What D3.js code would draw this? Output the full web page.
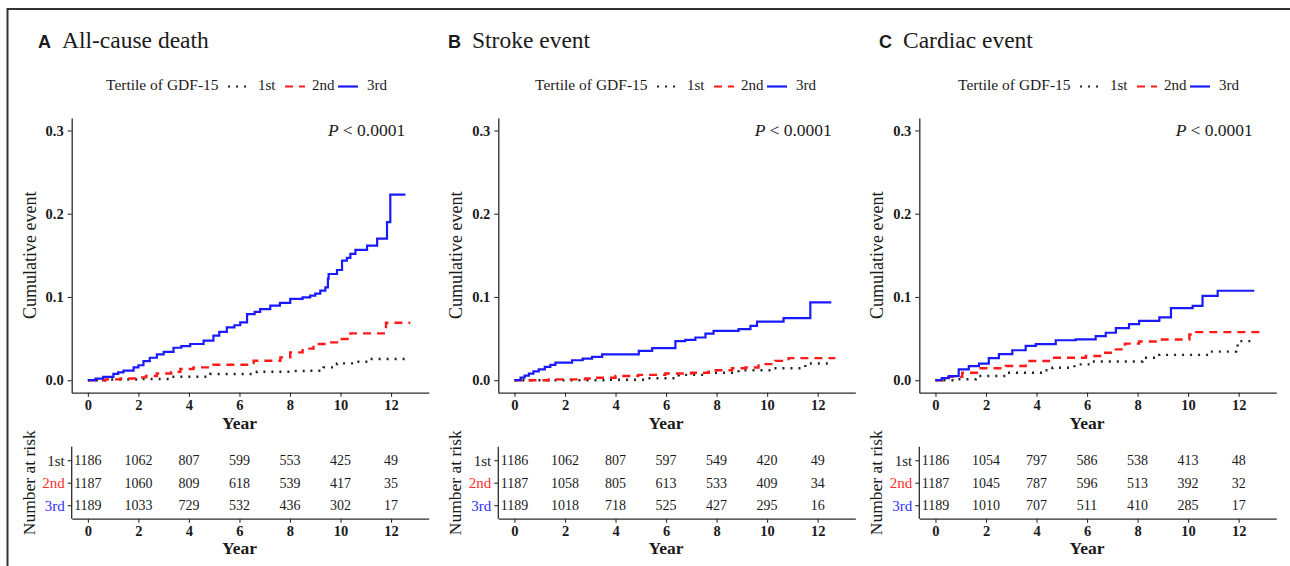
<!DOCTYPE html>
<html>
<head>
<meta charset="utf-8">
<script src="https://cdn.jsdelivr.net/npm/d3@7"></script>
<style>
  body { margin: 0; background: #fff; }
  svg text { font-family: "Liberation Serif", "Times New Roman", serif; }
</style>
</head>
<body>
<svg id="chart" width="1290" height="566"></svg>
<script>
/* -----------------    DATA     ------------------ */

const years = [0, 2, 4, 6, 8, 10, 12];
const tertiles = ['1st', '2nd', '3rd'];
const panelLetters = ['A', 'B', 'C'];
const panelTitles = ['All-cause death', 'Stroke event', 'Cardiac event'];
const yTicks = [0, 0.1, 0.2, 0.3];
const pLabel = '< 0.0001';

// cumulative event step points [year, value]
const deathT1 = [[0, 0], [0.8, 0.0008], [2.07, 0.0015], [3.26, 0.0042], [4.84, 0.0075], [6.69, 0.0102], [8.0, 0.011], [8.67, 0.0114], [9.33, 0.0154], [9.86, 0.0202], [10.65, 0.0222], [11.11, 0.0255], [12.7, 0.0255]];
const deathT2 = [[0, 0], [0.7, 0.001], [1.3, 0.002], [1.94, 0.0034], [2.3, 0.005], [2.73, 0.008], [3.3, 0.01], [3.66, 0.0135], [4.18, 0.0154], [4.97, 0.0186], [6.3, 0.0205], [6.56, 0.0234], [7.62, 0.0274], [8.01, 0.0334], [8.5, 0.038], [8.93, 0.0435], [9.47, 0.0454], [9.86, 0.0495], [10.39, 0.0563], [11.8, 0.069], [12.76, 0.069]];
const deathT3 = [[0, 0], [0.3, 0.002], [0.6, 0.004], [1.01, 0.0075], [1.2, 0.0095], [1.41, 0.0114], [1.81, 0.0154], [2.0, 0.018], [2.2, 0.023], [2.45, 0.027], [2.73, 0.031], [3.0, 0.034], [3.39, 0.039], [3.7, 0.041], [4.05, 0.0435], [4.58, 0.0475], [4.97, 0.0535], [5.2, 0.058], [5.5, 0.0635], [5.8, 0.066], [6.03, 0.0695], [6.3, 0.0795], [6.6, 0.082], [6.82, 0.0855], [7.22, 0.0895], [7.6, 0.093], [8.01, 0.0976], [8.5, 0.0995], [8.8, 0.1016], [9.0, 0.104], [9.2, 0.1076], [9.4, 0.1115], [9.5, 0.122], [9.53, 0.1276], [9.86, 0.1324], [10.06, 0.1436], [10.25, 0.147], [10.39, 0.1517], [10.59, 0.1565], [11.05, 0.1617], [11.45, 0.17], [11.84, 0.19], [11.97, 0.223], [12.57, 0.223]];

const strokeT1 = [[0, 0], [3.6, 0.0005], [5.18, 0.0024], [6.5, 0.0064], [7.56, 0.009], [8.87, 0.012], [10.19, 0.0144], [11.51, 0.02], [12.63, 0.02]];
const strokeT2 = [[0, 0], [1.36, 0.001], [2.81, 0.002], [3.2, 0.003], [4.0, 0.005], [4.9, 0.0064], [5.97, 0.008], [7.0, 0.009], [7.69, 0.012], [8.61, 0.0144], [9.14, 0.0152], [9.66, 0.0193], [10.32, 0.0232], [10.85, 0.0265], [12.7, 0.0265]];
const strokeT3 = [[0, 0], [0.24, 0.003], [0.4, 0.0055], [0.57, 0.008], [0.75, 0.0105], [0.96, 0.013], [1.2, 0.016], [1.42, 0.0184], [1.62, 0.0212], [2.28, 0.024], [2.7, 0.026], [3.07, 0.028], [3.47, 0.031], [4.92, 0.0353], [5.45, 0.0385], [6.37, 0.047], [6.76, 0.0485], [7.16, 0.0513], [7.56, 0.056], [7.88, 0.0593], [8.87, 0.0614], [9.34, 0.0653], [9.6, 0.0705], [10.65, 0.0746], [11.71, 0.0934], [12.54, 0.0934]];

const cardiacT1 = [[0, 0], [0.79, 0.0012], [1.59, 0.005], [2.78, 0.009], [4.23, 0.012], [4.63, 0.015], [5.5, 0.019], [6.21, 0.0224], [8.2, 0.027], [8.86, 0.0305], [10.84, 0.0344], [11.9, 0.036], [11.96, 0.047], [12.69, 0.047]];
const cardiacT2 = [[0, 0], [0.5, 0.004], [1.06, 0.009], [1.72, 0.0144], [2.78, 0.017], [3.57, 0.023], [4.49, 0.027], [5.95, 0.029], [6.61, 0.033], [7.14, 0.037], [7.5, 0.044], [8.06, 0.0465], [8.86, 0.049], [10.05, 0.055], [10.31, 0.0578], [12.82, 0.0578]];
const cardiacT3 = [[0, 0], [0.25, 0.0025], [0.53, 0.005], [0.92, 0.013], [1.32, 0.017], [1.72, 0.02], [2.11, 0.0265], [2.51, 0.0313], [3.04, 0.036], [3.57, 0.0413], [3.97, 0.0433], [4.76, 0.048], [5.55, 0.049], [6.34, 0.053], [6.74, 0.057], [7.14, 0.0626], [7.66, 0.0674], [8.06, 0.0714], [8.86, 0.0754], [9.32, 0.0866], [10.18, 0.0894], [10.57, 0.1014], [11.17, 0.1075], [12.62, 0.1075]];

// number at risk per tertile, at each of `years`
const deathRisk1 = [1186, 1062, 807, 599, 553, 425, 49];
const deathRisk2 = [1187, 1060, 809, 618, 539, 417, 35];
const deathRisk3 = [1189, 1033, 729, 532, 436, 302, 17];
const strokeRisk1 = [1186, 1062, 807, 597, 549, 420, 49];
const strokeRisk2 = [1187, 1058, 805, 613, 533, 409, 34];
const strokeRisk3 = [1189, 1018, 718, 525, 427, 295, 16];
const cardiacRisk1 = [1186, 1054, 797, 586, 538, 413, 48];
const cardiacRisk2 = [1187, 1045, 787, 596, 513, 392, 32];
const cardiacRisk3 = [1189, 1010, 707, 511, 410, 285, 17];

/* -----------------    SETTINGS     ------------------ */

const settings = {
    panelLeft: [71.7, 498.3, 919.3],   // y-axis line of each panel
    titleX: [38, 448, 879],
    legendX: [106, 535, 958],
    keyX: [122, 179, 232],
    keyLabelX: [152, 206, 261],
    plotWidth: 357,
    plotTop: 118,
    plotBottom: 392.7,
    tableTop: 446.7,
    tableBottom: 518.7,
    colAxis: '#2b2b2b',
    colText: '#1a1a1a',
    colors: ['#222222', '#ff1a1a', '#1a1aff'],
    labelColors: ['#222222', '#ff3030', '#3030ff'],
    dashes: ['2,6', '8,6', null]
};

const curves = [
    [deathT1, deathT2, deathT3],
    [strokeT1, strokeT2, strokeT3],
    [cardiacT1, cardiacT2, cardiacT3]
];
const risks = [
    [deathRisk1, deathRisk2, deathRisk3],
    [strokeRisk1, strokeRisk2, strokeRisk3],
    [cardiacRisk1, cardiacRisk2, cardiacRisk3]
];

/* -----------------    DRAW     ------------------ */

const svg = d3.select('#chart');

// outer frame of the figure
svg.append('path')
    .attr('d', 'M7.5,570 V9 H1295')
    .attr('fill', 'none')
    .attr('stroke', '#333')
    .attr('stroke-width', 2);

const styleAxis = (g) => {
    g.select('.domain').attr('stroke', settings.colAxis).attr('stroke-width', 1.3);
    g.selectAll('.tick line').attr('stroke', settings.colAxis).attr('stroke-width', 1.1);
    g.selectAll('.tick text')
        .style('fill', settings.colText)
        .style('font-family', '"Liberation Serif", serif');
};

panelLetters.forEach((letter, i) => {
    const L = settings.panelLeft[i];
    const x = d3.scaleLinear().domain([-0.64, 13.49]).range([L, L + settings.plotWidth]);
    const y = d3.scaleLinear().domain([-0.015, 0.315]).range([settings.plotBottom, settings.plotTop]);
    const g = svg.append('g').style('fill', settings.colText);

    // title
    const title = g.append('text')
        .attr('x', settings.titleX[i])
        .attr('y', 48);
    title.append('tspan')
        .text(letter)
        .style('font-family', '"Liberation Sans", Arial, sans-serif')
        .style('font-weight', 'bold')
        .style('font-size', '18px');
    title.append('tspan')
        .attr('dx', 11)
        .text(panelTitles[i])
        .style('font-size', '23.5px');

    // legend
    const lg = g.append('g').attr('transform', `translate(${settings.legendX[i]},0)`);
    lg.append('text').attr('x', 0).attr('y', 90).style('font-size', '15.5px').text('Tertile of GDF-15');
    tertiles.forEach((t, k) => {
        lg.append('line')
            .attr('x1', settings.keyX[k]).attr('x2', settings.keyX[k] + 20)
            .attr('y1', 86.5).attr('y2', 86.5)
            .attr('stroke', settings.colors[k])
            .attr('stroke-width', 2.2)
            .attr('stroke-dasharray', settings.dashes[k]);
        lg.append('text')
            .attr('x', settings.keyLabelX[k]).attr('y', 90)
            .style('font-size', '15px')
            .text(t);
    });

    // axes
    g.append('g')
        .attr('transform', `translate(0,${settings.plotBottom})`)
        .call(d3.axisBottom(x).tickValues(years).tickFormat(d3.format('d')).tickSize(4).tickPadding(3).tickSizeOuter(0))
        .call(styleAxis)
        .selectAll('.tick text').style('font-size', '14.5px').style('font-weight', 'bold');

    g.append('g')
        .attr('transform', `translate(${L},0)`)
        .call(d3.axisLeft(y).tickValues(yTicks).tickFormat(d3.format('.1f')).tickSize(4).tickPadding(4).tickSizeOuter(0))
        .call(styleAxis)
        .selectAll('.tick text').style('font-size', '14.5px').style('font-weight', 'bold');

    g.append('text')
        .attr('x', x(6)).attr('y', 428.5)
        .attr('text-anchor', 'middle')
        .style('font-size', '17.5px').style('font-weight', 'bold')
        .text('Year');

    g.append('text')
        .attr('transform', `translate(${L - 36},${(settings.plotTop + settings.plotBottom) / 2}) rotate(-90)`)
        .attr('text-anchor', 'middle')
        .style('font-size', '18px')
        .text('Cumulative event');

    // P value
    const p = g.append('text')
        .attr('x', L + 333.5).attr('y', 136)
        .attr('text-anchor', 'end')
        .style('font-size', '17.5px');
    p.append('tspan').style('font-style', 'italic').text('P ');
    p.append('tspan').text(pLabel);

    // curves
    const line = d3.line()
        .x(d => x(d[0]))
        .y(d => y(d[1]))
        .curve(d3.curveStepAfter);

    curves[i].forEach((series, k) => {
        g.append('path')
            .datum(series)
            .attr('d', line)
            .style('fill', 'none')
            .attr('stroke', settings.colors[k])
            .attr('stroke-width', k === 2 ? 2.2 : 2.4)
            .attr('stroke-dasharray', settings.dashes[k]);
    });

    // risk table
    const yr = d3.scalePoint().domain(tertiles).range([settings.tableTop, settings.tableBottom]).padding(0.6);

    g.append('g')
        .attr('transform', `translate(0,${settings.tableBottom})`)
        .call(d3.axisBottom(x).tickValues(years).tickFormat(d3.format('d')).tickSize(4).tickPadding(3).tickSizeOuter(0))
        .call(styleAxis)
        .selectAll('.tick text').style('font-size', '14.5px').style('font-weight', 'bold');

    const yAx = g.append('g')
        .attr('transform', `translate(${L},0)`)
        .call(d3.axisLeft(yr).tickSize(4).tickPadding(3).tickSizeOuter(0))
        .call(styleAxis);
    yAx.selectAll('.domain').attr('d', `M0,${settings.tableTop}V${settings.tableBottom}`);
    yAx.selectAll('.tick text')
        .style('font-size', '15px')
        .style('fill', (d, k) => settings.labelColors[k]);

    risks[i].forEach((row, k) => {
        g.selectAll(null)
            .data(row)
            .enter()
            .append('text')
            .attr('x', (d, j) => x(years[j]))
            .attr('y', yr(tertiles[k]))
            .attr('dy', '0.35em')
            .attr('text-anchor', 'middle')
            .style('font-size', '14px')
            .text(d => d);
    });

    g.append('text')
        .attr('x', x(6)).attr('y', 553.5)
        .attr('text-anchor', 'middle')
        .style('font-size', '17.5px').style('font-weight', 'bold')
        .text('Year');

    g.append('text')
        .attr('transform', `translate(${L - 37},${(settings.tableTop + settings.tableBottom) / 2}) rotate(-90)`)
        .attr('text-anchor', 'middle')
        .style('font-size', '17.5px')
        .text('Number at risk');
});
</script>
</body>
</html>
